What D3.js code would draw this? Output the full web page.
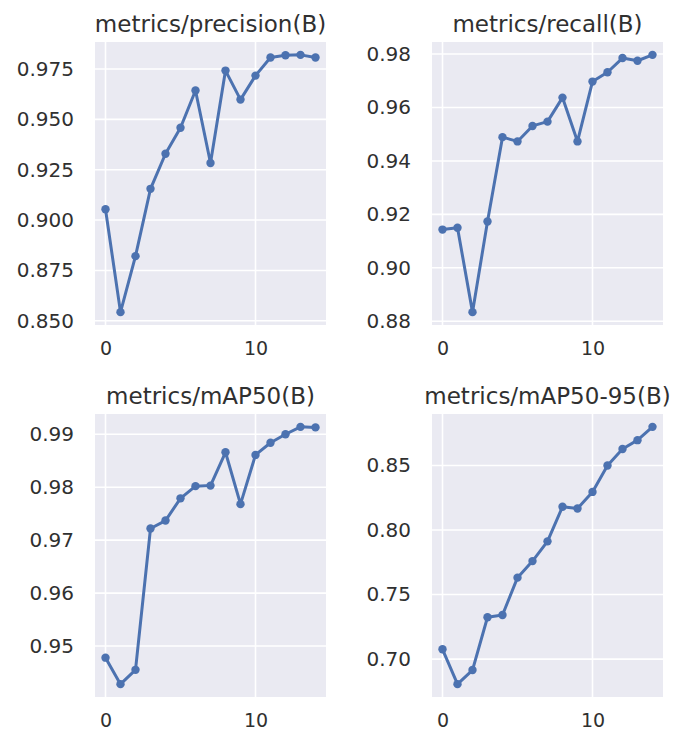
<!DOCTYPE html>
<html>
<head>
<meta charset="utf-8">
<script src="https://cdn.jsdelivr.net/npm/d3@7/dist/d3.min.js"></script>
<style>
  html, body { margin: 0; padding: 0; background: #ffffff; }
  svg { display: block; }
  text { font-family: "DejaVu Sans", sans-serif; fill: #303030; }
</style>
</head>
<body>
<svg id="chart" width="686" height="732"></svg>
<script>
// Training epochs shared by every panel
const epochs = [0, 1, 2, 3, 4, 5, 6, 7, 8, 9, 10, 11, 12, 13, 14];
const xTicks = [0, 10];

// Validation metrics per epoch
const precision = [0.9054, 0.8543, 0.8821, 0.9155, 0.9329, 0.9458, 0.9643, 0.9283,
                   0.9742, 0.9598, 0.9717, 0.9807, 0.9818, 0.9820, 0.9807];
const recall = [0.9143, 0.9150, 0.8834, 0.9173, 0.9489, 0.9473, 0.9531, 0.9547,
                0.9637, 0.9473, 0.9697, 0.9732, 0.9785, 0.9775, 0.9797];
const mAP50 = [0.9478, 0.9428, 0.9455, 0.9722, 0.9737, 0.9779, 0.9802, 0.9803,
               0.9866, 0.9768, 0.9861, 0.9884, 0.9900, 0.9914, 0.9913];
const mAP50_95 = [0.7076, 0.6806, 0.6915, 0.7324, 0.7342, 0.7631, 0.7759, 0.7912,
                  0.8180, 0.8167, 0.8295, 0.8500, 0.8628, 0.8696, 0.8799];

// Panel titles and y tick labels
const titles = ["metrics/precision(B)", "metrics/recall(B)", "metrics/mAP50(B)", "metrics/mAP50-95(B)"];
const precisionTicks = [0.850, 0.875, 0.900, 0.925, 0.950, 0.975];
const recallTicks = [0.88, 0.90, 0.92, 0.94, 0.96, 0.98];
const mAP50Ticks = [0.95, 0.96, 0.97, 0.98, 0.99];
const mAP50_95Ticks = [0.70, 0.75, 0.80, 0.85];

const panels = [
  { title: titles[0], values: precision, ticks: precisionTicks, fmt: d3.format(".3f"), col: 0, row: 0 },
  { title: titles[1], values: recall,    ticks: recallTicks,    fmt: d3.format(".2f"), col: 1, row: 0 },
  { title: titles[2], values: mAP50,     ticks: mAP50Ticks,     fmt: d3.format(".2f"), col: 0, row: 1 },
  { title: titles[3], values: mAP50_95,  ticks: mAP50_95Ticks,  fmt: d3.format(".2f"), col: 1, row: 1 }
];

const svg = d3.select("#chart");
const colX = [95, 432];
const rowY = [42, 414];
const pw = 231, ph = 283;
const blue = "#4C72B0";

panels.forEach(p => {
  const g = svg.append("g")
    .attr("transform", `translate(${colX[p.col]},${rowY[p.row]})`);

  // matplotlib-style 5% padding around the data range
  const xPad = (d3.max(epochs) - d3.min(epochs)) * 0.05;
  const x = d3.scaleLinear()
    .domain([d3.min(epochs) - xPad, d3.max(epochs) + xPad])
    .range([0, pw]);
  const [lo, hi] = d3.extent(p.values);
  const yPad = (hi - lo) * 0.05;
  const y = d3.scaleLinear().domain([lo - yPad, hi + yPad]).range([ph, 0]);

  // plot background
  g.append("rect").attr("width", pw).attr("height", ph).attr("fill", "#EAEAF2");

  // grid lines
  g.append("g").selectAll("line").data(p.ticks).join("line")
    .attr("x1", 0).attr("x2", pw)
    .attr("y1", d => y(d)).attr("y2", d => y(d))
    .attr("stroke", "#ffffff").attr("stroke-width", 1.6);
  g.append("g").selectAll("line").data(xTicks).join("line")
    .attr("y1", 0).attr("y2", ph)
    .attr("x1", d => x(d)).attr("x2", d => x(d))
    .attr("stroke", "#ffffff").attr("stroke-width", 1.6);

  // axes (labels only, no domain or tick marks)
  const yAxis = g.append("g")
    .call(d3.axisLeft(y).tickValues(p.ticks).tickFormat(p.fmt).tickSize(0).tickPadding(21));
  yAxis.select(".domain").remove();
  yAxis.selectAll("text").attr("font-size", 20).attr("fill", "#303030")
    .attr("font-family", "DejaVu Sans, sans-serif");

  const xAxis = g.append("g").attr("transform", `translate(0,${ph})`)
    .call(d3.axisBottom(x).tickValues(xTicks).tickFormat(d3.format("d")).tickSize(0).tickPadding(17));
  xAxis.select(".domain").remove();
  xAxis.selectAll("text").attr("font-size", 19).attr("fill", "#303030")
    .attr("font-family", "DejaVu Sans, sans-serif");

  // series line with point markers
  const line = d3.line().x((d, i) => x(epochs[i])).y(d => y(d));
  g.append("path").datum(p.values)
    .attr("d", line)
    .attr("fill", "none")
    .attr("stroke", blue)
    .attr("stroke-width", 3)
    .attr("stroke-linejoin", "round");
  g.append("g").selectAll("circle").data(p.values).join("circle")
    .attr("cx", (d, i) => x(epochs[i]))
    .attr("cy", d => y(d))
    .attr("r", 4.2)
    .attr("fill", blue);

  // panel title
  g.append("text")
    .attr("x", pw / 2).attr("y", -10)
    .attr("text-anchor", "middle")
    .attr("font-size", 23)
    .text(p.title);
});
</script>
</body>
</html>
